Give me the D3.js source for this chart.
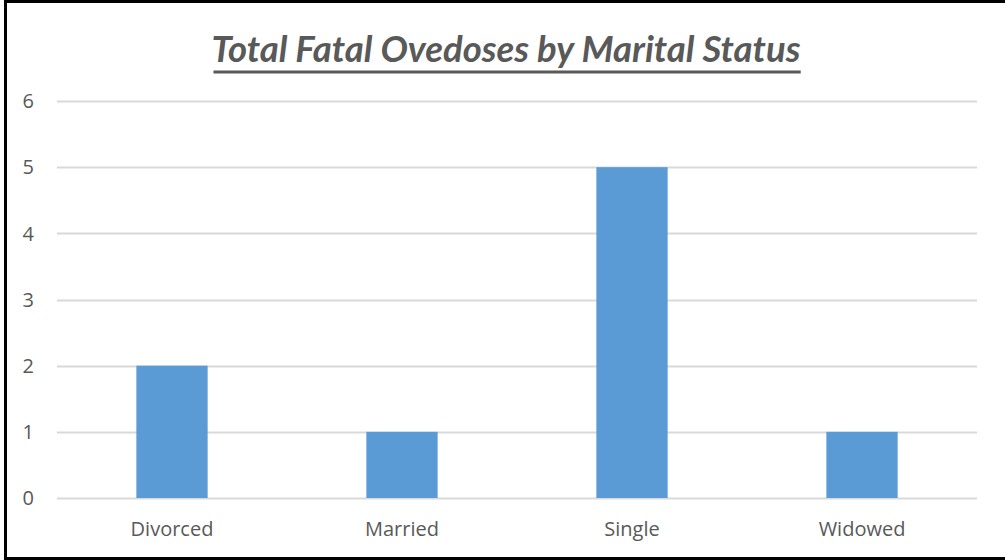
<!DOCTYPE html>
<html>
<head>
<meta charset="utf-8">
<script src="https://cdn.jsdelivr.net/npm/d3@7"></script>
<style>
  body { margin: 0; background: #fff; }
  svg { display: block; }
</style>
</head>
<body>
<div id="chart"></div>
<script>
"use strict";

// chart data
const categories = ["Divorced", "Married", "Single", "Widowed"];
const fatalities = [2, 1, 5, 1];
const yTicks = [0, 1, 2, 3, 4, 5, 6];
const chartTitle = "Total Fatal Ovedoses by Marital Status";

const width = 1005, height = 560;
const margin = {top: 101, right: 28, bottom: 62, left: 57};

const svg = d3.select("#chart")
  .append("svg")
    .attr("width", width)
    .attr("height", height);

// outer frame (right edge is cut off in the original)
svg.append("path")
    .attr("d", "M1005,1.5 H5.5 V558.5 H1005")
    .attr("fill", "none")
    .attr("stroke", "#000")
    .attr("stroke-width", 3);

let xScale = d3.scaleBand()
               .domain(categories)
               .range([margin.left, width - margin.right])
               .paddingInner(0.69)
               .paddingOuter(0.345);

let yScale = d3.scaleLinear()
               .domain([0, 6])
               .range([height - margin.bottom, margin.top]);

// gridlines
svg.append("g")
  .selectAll("line")
  .data(yTicks)
  .join("line")
    .attr("x1", margin.left)
    .attr("x2", width - margin.right)
    .attr("y1", d => Math.round(yScale(d)) + 0.5)
    .attr("y2", d => Math.round(yScale(d)) + 0.5)
    .attr("stroke", "#d9d9d9")
    .attr("stroke-width", 2);

const labelFont = "'Open Sans', Lato, sans-serif";

// y labels
svg.append("g")
  .selectAll("text")
  .data(yTicks)
  .join("text")
    .attr("x", 34)
    .attr("y", d => yScale(d))
    .attr("dy", "0.36em")
    .attr("text-anchor", "end")
    .attr("font-family", labelFont)
    .attr("font-size", 20)
    .attr("fill", "#595959")
    .text(d => d);

// bars
svg.append("g")
  .selectAll("rect")
  .data(fatalities)
  .join("rect")
    .attr("x", (d, i) => xScale(categories[i]))
    .attr("width", xScale.bandwidth())
    .attr("y", d => yScale(d))
    .attr("height", d => yScale(0) - yScale(d))
    .attr("fill", "#5b9bd5");

// x labels
svg.append("g")
  .selectAll("text")
  .data(categories)
  .join("text")
    .attr("x", d => xScale(d) + xScale.bandwidth() / 2)
    .attr("y", 536)
    .attr("text-anchor", "middle")
    .attr("font-family", labelFont)
    .attr("font-size", 20)
    .attr("fill", "#595959")
    .text(d => d);

// title, underlined
const title = svg.append("text")
    .attr("x", 506)
    .attr("y", 62)
    .attr("text-anchor", "middle")
    .attr("font-family", "Lato, 'Open Sans', sans-serif")
    .attr("font-size", 36.5)
    .attr("font-weight", "bold")
    .attr("font-style", "italic")
    .attr("fill", "#595959")
    .text(chartTitle);

const bb = title.node().getBBox();
svg.append("line")
    .attr("x1", bb.x + 2)
    .attr("x2", bb.x + bb.width)
    .attr("y1", 72)
    .attr("y2", 72)
    .attr("stroke", "#595959")
    .attr("stroke-width", 3);
</script>
</body>
</html>
